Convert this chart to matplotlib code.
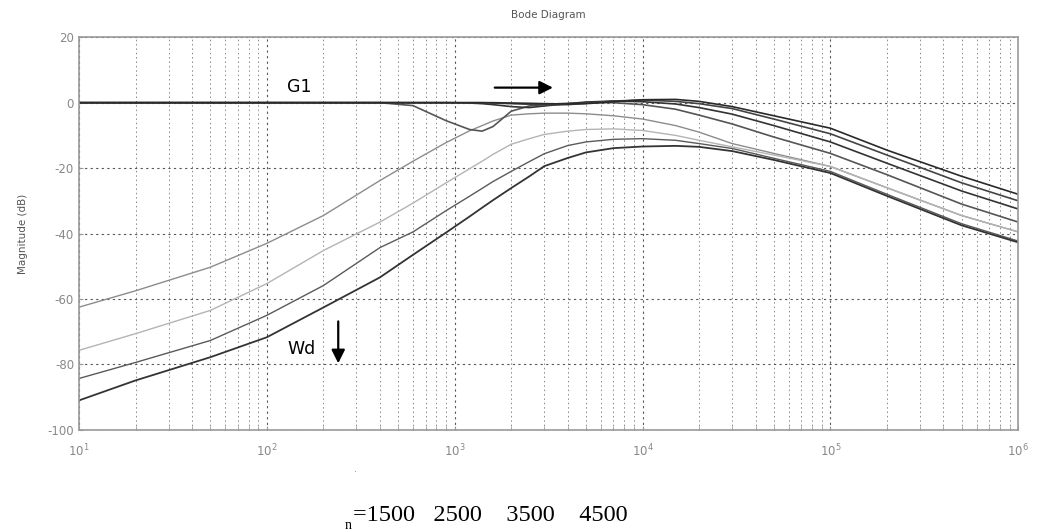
import matplotlib
matplotlib.use("Agg")
import matplotlib.pyplot as plt
import numpy as np
from matplotlib.ticker import LogLocator, NullFormatter

plt.rcParams["axes.unicode_minus"] = False

# frequency grid (rad/s) shared by all curves
freq = [10, 20, 50, 100, 200, 400, 600, 900, 1200, 1400, 1600, 2000, 2500, 3000,
        4000, 5000, 7000, 1e4, 1.5e4, 2e4, 3e4, 5e4, 1e5, 2e5, 5e5, 1e6]

# G1 family (magnitude, dB)
g1_a = [0, 0, 0, 0, 0, 0, -0.9, -5.5, -8.2, -8.7, -7.3, -2.6, -1.0, -0.5,
        -0.2, 0, 0, -0.6, -2, -3.8, -6.5, -10.5, -15.5, -22, -31, -36.5]
g1_b = [0, 0, 0, 0, 0, 0, 0, 0, -0.1, -0.3, -0.6, -1.2, -1.5, -1,
        -0.3, 0.2, 0.5, 0.3, -0.4, -1.5, -3.5, -7, -12, -18.5, -27, -32.5]
g1_c = [0, 0, 0, 0, 0, 0, 0, 0, 0, 0, -0.1, -0.3, -0.5, -0.7,
        -0.6, -0.2, 0.5, 0.8, 0.4, -0.3, -1.8, -5, -9.5, -16, -24.5, -30]
g1_d = [0, 0, 0, 0, 0, 0, 0, 0, 0, 0, 0, -0.1, -0.2, -0.3,
        -0.4, -0.3, 0.3, 0.9, 1.0, 0.4, -1.2, -4, -7.8, -14.5, -22.5, -28]

# Wd family (magnitude, dB)
wd_1 = [-62.5, -57.5, -50.3, -43, -34.5, -23.8, -17.9, -12.2, -8.6, -7, -5.6, -3.8, -3.4, -3.2,
        -3.2, -3.4, -4, -5, -7, -9, -12.5, -15.5, -19.5, -26, -34.5, -39.5]
wd_2 = [-75.7, -70.6, -63.5, -55.3, -45.2, -36.5, -30.7, -24.5, -20.2, -17.9, -15.8, -12.7, -11, -9.7,
        -8.7, -8.2, -8, -8.5, -10, -11.5, -13.5, -16, -19.5, -26, -34.5, -39.5]
wd_3 = [-84.3, -79.4, -72.7, -65, -55.9, -44.3, -39.5, -33, -28.6, -26.2, -24.1, -21, -18, -15.6,
        -13.1, -12, -11.2, -11, -11.5, -12.5, -14, -17, -21, -28, -37, -42.3]
wd_4 = [-91, -84.9, -77.8, -71.7, -62.6, -53.4, -46.5, -39.7, -34.8, -32.1, -29.8, -26.1, -22.5, -19.4,
        -16.9, -15.2, -13.9, -13.4, -13.2, -13.5, -14.8, -17.5, -21.5, -28.5, -37.5, -42.7]

omega_n = ["1500", "2500", "3500", "4500"]

fig = plt.figure(figsize=(10.39, 5.32), dpi=100)
ax = fig.add_axes([0.076, 0.192, 0.904, 0.738])

# Wd curves (light to dark)
ax.semilogx(freq, wd_1, color="#8c8c8c", lw=1.0)
ax.semilogx(freq, wd_2, color="#b4b4b4", lw=1.0)
ax.semilogx(freq, wd_3, color="#5a5a5a", lw=1.0)
ax.semilogx(freq, wd_4, color="#333333", lw=1.3)

# G1 curves
ax.semilogx(freq, g1_a, color="#555555", lw=1.2)
ax.semilogx(freq, g1_b, color="#333333", lw=1.2)
ax.semilogx(freq, g1_c, color="#444444", lw=1.2)
ax.semilogx(freq, g1_d, color="#2a2a2a", lw=1.2)

ax.set_xlim(10, 1e6)
ax.set_ylim(-100, 20)
ax.set_yticks([-100, -80, -60, -40, -20, 0, 20])
ax.xaxis.set_major_locator(LogLocator(base=10, numticks=10))
ax.xaxis.set_minor_locator(LogLocator(base=10, subs=np.arange(2, 10), numticks=100))
ax.xaxis.set_minor_formatter(NullFormatter())

ax.grid(True, which="major", color="#555555", linestyle=(0, (2, 3)), lw=0.8)
ax.grid(True, which="minor", axis="x", color="#888888", linestyle=(0, (1.5, 3)), lw=0.7)

for s in ax.spines.values():
    s.set_color("#999999")
    s.set_linewidth(1.2)
ax.tick_params(which="both", direction="in", colors="#999999", labelcolor="#888888",
               labelsize=8.5, length=3)
ax.tick_params(axis="x", pad=9)

ax.set_title("Bode Diagram", fontsize=7.5, color="#555555", pad=14)
ax.set_ylabel("Magnitude (dB)", fontsize=7.5, color="#555555", labelpad=14)

# annotations
ax.text(128, 3.4, "G1", fontsize=12.5, family="DejaVu Sans", color="black")
ax.annotate("", xy=(3450, 4.6), xytext=(1580, 4.6),
            arrowprops=dict(arrowstyle="-|>", color="black", lw=1.6, mutation_scale=20))
ax.text(128, -76.7, "Wd", fontsize=12.5, family="DejaVu Sans", color="black")
ax.annotate("", xy=(240, -80.5), xytext=(240, -66),
            arrowprops=dict(arrowstyle="-|>", color="black", lw=1.6, mutation_scale=20))

fig.text(0.341, 0.113, ".", fontsize=7, color="#888888")
fig.text(0.332, 0.006, "n", fontsize=10, family="Liberation Serif", color="black")
fig.text(0.340, 0.020, "=" + "   ".join(omega_n[:2]) + "    " + "    ".join(omega_n[2:]),
         fontsize=17.5, family="Liberation Serif", color="black")

fig.savefig("out.png", dpi=100)
